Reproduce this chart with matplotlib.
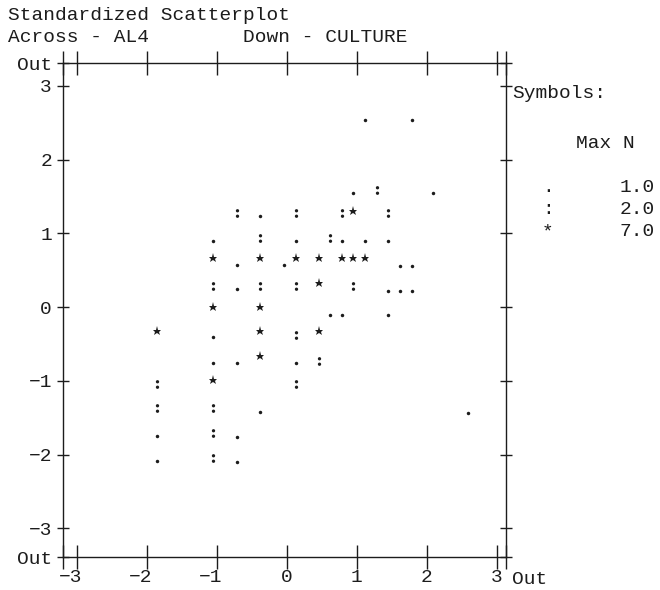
import matplotlib
matplotlib.use('Agg')
import matplotlib.pyplot as plt
from matplotlib.path import Path
from matplotlib.transforms import ScaledTranslation

# standardized scores (AL4 across, CULTURE down)
# '.' = 1 case, ':' = 2 cases, '*' = up to 7 cases
punto_x = [1.11, 1.78, 0.95, 2.09, -0.38, -1.06, 0.13, 0.78, 1.11, 1.44, -0.72, -0.04, 1.61, 1.78, -0.72,
           1.44, 1.61, 1.78, 0.61, 0.78, 1.44, -1.06, -1.06, -0.72, 0.13, -0.38, 2.59, -1.86, -0.72, -1.86, -0.72]
punto_y = [2.54, 2.54, 1.55, 1.55, 1.23, 0.90, 0.90, 0.90, 0.90, 0.90, 0.57, 0.57, 0.55, 0.55, 0.24,
           0.22, 0.22, 0.22, -0.11, -0.11, -0.11, -0.41, -0.76, -0.76, -0.76, -1.42, -1.44, -1.75, -1.76, -2.09, -2.10]

dos_x = [-0.72, 0.13, 0.78, 1.44, 1.28, -0.38, 0.61, -1.06, -0.38, 0.13, 0.95, 0.13, 0.46, -1.86, 0.13,
         -1.86, -1.06, -1.06, -1.06]
dos_y = [1.28, 1.28, 1.28, 1.28, 1.59, 0.94, 0.94, 0.28, 0.28, 0.28, 0.28, -0.38, -0.73, -1.04, -1.04,
         -1.37, -1.37, -1.71, -2.05]

estrella_x = [0.95, -1.06, -0.38, 0.13, 0.46, 0.78, 0.95, 1.11, 0.46, -1.06, -0.38, -1.86, -0.38, 0.46, -0.38, -1.06]
estrella_y = [1.30, 0.66, 0.66, 0.66, 0.66, 0.66, 0.66, 0.66, 0.33, 0.0, 0.0, -0.33, -0.33, -0.33, -0.66, -0.99]

ticks = [-3, -2, -1, 0, 1, 2, 3]
etiquetas = ['−3', '−2', '−1', '0', '1', '2', '3']
simbolos = ['.', ':', '*']
max_n = ['1.0', '2.0', '7.0']

# "Out" borders of the plot
x_out = (-3.2, 3.13)
y_out = (-3.39, 3.31)

fuente = 'Liberation Mono'
tinta = '#1c1c1c'
tam = 14

fig = plt.figure(figsize=(6.6, 5.9), dpi=100)
ax = fig.add_axes([63/660, 33/590, 443/660, 494/590])
ax.set_xlim(*x_out)
ax.set_ylim(*y_out)

# ':' symbol as a marker made of two dots
dos_puntos = Path.make_compound_path(Path.circle((0, 2.75), 1.65), Path.circle((0, -2.75), 1.65))

ax.plot(punto_x, punto_y, 'o', color=tinta, markersize=2.5, markeredgewidth=0)
ax.plot(dos_x, dos_y, marker=dos_puntos, linestyle='none', color=tinta, markersize=6.3, markeredgewidth=0)
ax.plot(estrella_x, estrella_y, '*', color=tinta, markersize=6.8, markeredgewidth=0)

for s in ax.spines.values():
    s.set_linewidth(1.0)
    s.set_color(tinta)

ax.set_xticks([x_out[0]] + ticks + [x_out[1]])
ax.set_xticklabels([''] + etiquetas + [''], fontfamily=fuente, fontsize=tam, color=tinta)
ax.set_yticks([y_out[0]] + ticks + [y_out[1]])
ax.set_yticklabels(['Out'] + etiquetas + ['Out'], fontfamily=fuente, fontsize=tam, color=tinta)
ax.tick_params(axis='x', direction='inout', length=17, width=1.0, color=tinta, top=True, bottom=True, pad=0)
ax.tick_params(axis='y', direction='inout', length=8.6, width=1.0, color=tinta, left=True, right=True, pad=3.7)

# last digit sits under the tick, like the printed chart
corrimiento = ScaledTranslation(4.2/72, 0, fig.dpi_scale_trans)
for lbl in ax.get_xticklabels():
    lbl.set_horizontalalignment('right')
    lbl.set_transform(lbl.get_transform() + corrimiento)

def texto(x, y, s, ha='left'):
    fig.text(x/660, 1 - y/590, s, ha=ha, va='center', fontfamily=fuente, fontsize=tam, color=tinta)

texto(8, 15, 'Standardized Scatterplot')
texto(8, 38, 'Across - AL4')
texto(243, 38, 'Down - CULTURE')
texto(512, 580, 'Out')

texto(512, 93, 'Symbols:')
texto(576, 143, 'Max N')
for i in range(len(simbolos)):
    texto(548, 188 + 22*i, simbolos[i], ha='center')
    texto(655, 188 + 22*i, max_n[i], ha='right')

fig.savefig('out.png', dpi=100, facecolor='white')
